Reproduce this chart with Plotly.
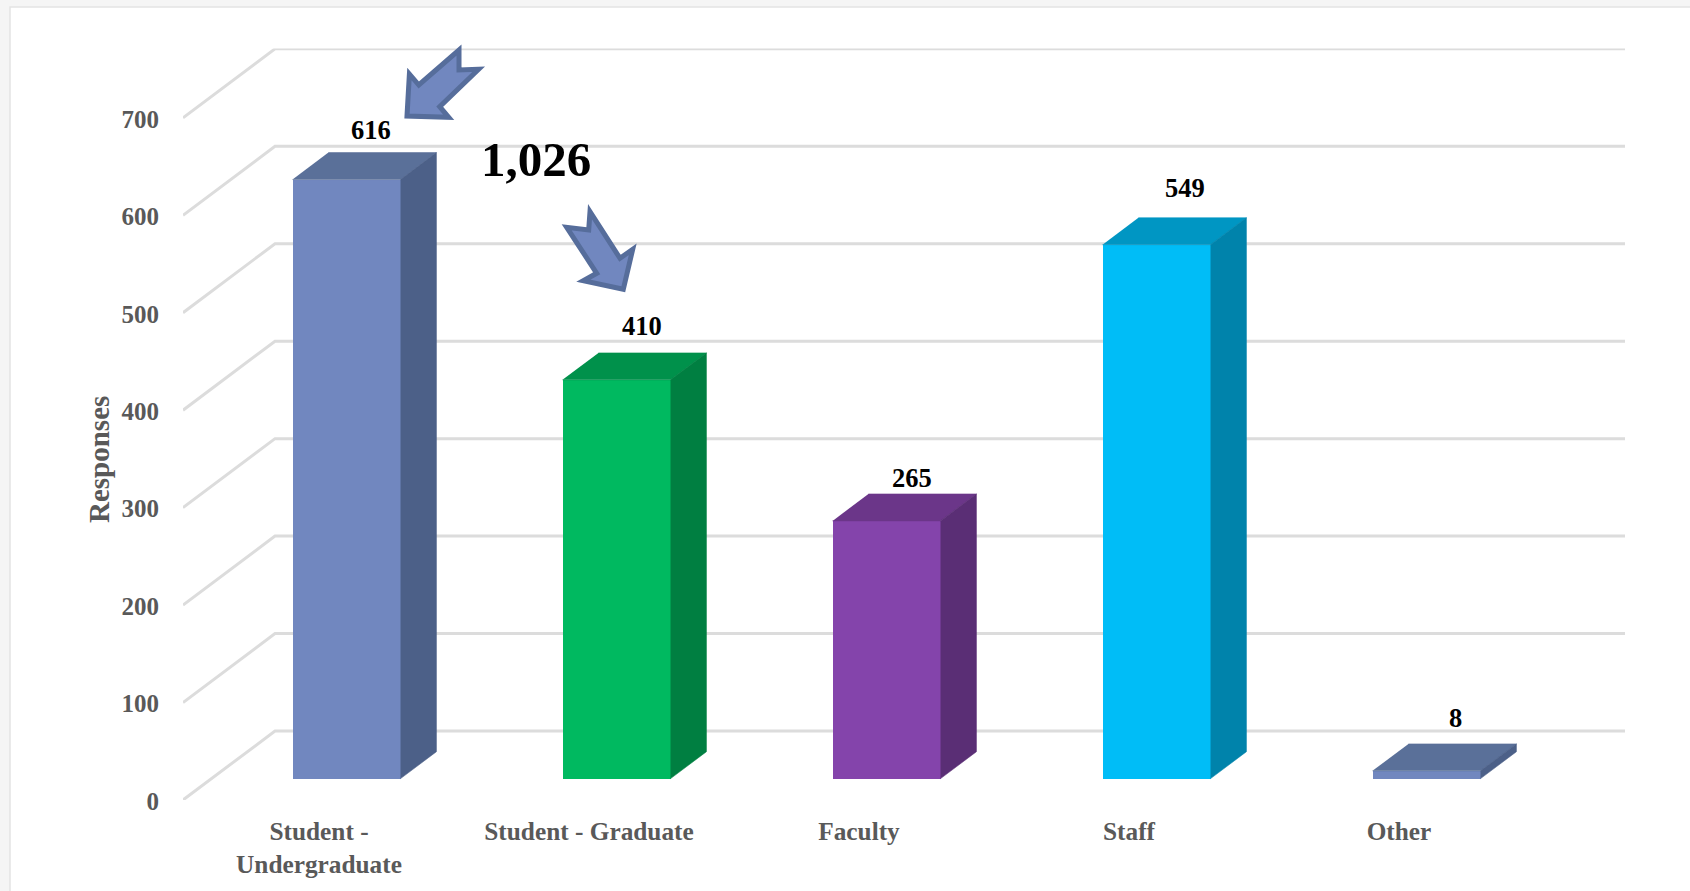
import plotly.graph_objects as go

# ---- data ----
categories = ["Student -<br>Undergraduate", "Student - Graduate", "Faculty", "Staff", "Other"]
responses = [616, 410, 265, 549, 8]
y_ticks = [0, 100, 200, 300, 400, 500, 600, 700]
total_label = "1,026"

# ---- styles ----
front_colors = ["#7187BF", "#00B960", "#8444AB", "#00BDF7", "#7187BF"]
top_colors = ["#5A7099", "#00914B", "#6B3689", "#0096C3", "#5A7099"]
side_colors = ["#4C6088", "#007F41", "#5A2E75", "#0083AB", "#4C6088"]
label_nudges = [(7, 36), (8, 41), (8, 30), (11, 44), (11, 40)]
FONT = "Liberation Serif"

W, H = 1690, 891
LEFT, RIGHT = 183.0, 1625.0      # pixel span of the x axis domain
ZERO, TOP = 800.0, 48.5          # pixel span of the y axis domain
CAT_PX = 270.0                   # pixels per category on the front plane
VAL_PX = 0.9745                  # pixels per response
DEPTH_X = 92.0                   # wall depth in pixels
DEPTH_Y = 69.0
BAR_NEAR, BAR_FAR = 0.31, 0.70   # bar depth as a fraction of wall depth
BAR_W = 0.4                      # bar width in categories
BAR_SCALE = 0.998


def project(x, v, t):
    """Category/value/depth to the 2-D axes of the oblique drawing."""
    return x + t * DEPTH_X / CAT_PX, v + t * DEPTH_Y / VAL_PX


def px(x_px):
    return x_px / W


def py(y_px):
    return 1 - y_px / H


def arrow_path(points):
    return "M" + "L".join(f"{px(a):.5f},{py(b):.5f}" for a, b in points) + "Z"


x_idx = list(range(len(categories)))
fig = go.Figure()

# front faces
near = [project(i, 0, BAR_NEAR) for i in x_idx]
fig.add_trace(go.Bar(
    x=[n[0] for n in near],
    y=[v * BAR_SCALE for v in responses],
    base=[n[1] for n in near],
    width=BAR_W,
    marker=dict(color=front_colors, line=dict(width=0)),
    hoverinfo="skip",
    showlegend=False,
))

# top and side faces
for i, v in zip(x_idx, responses):
    h = v * BAR_SCALE
    l, r = i - BAR_W / 2, i + BAR_W / 2
    corners_top = [project(l, h, BAR_NEAR), project(r, h, BAR_NEAR),
                   project(r, h, BAR_FAR), project(l, h, BAR_FAR)]
    corners_side = [project(r, 0, BAR_NEAR), project(r, 0, BAR_FAR),
                    project(r, h, BAR_FAR), project(r, h, BAR_NEAR)]
    for corners, color in ((corners_top, top_colors[i]), (corners_side, side_colors[i])):
        fig.add_trace(go.Scatter(
            x=[c[0] for c in corners], y=[c[1] for c in corners],
            mode="lines", line=dict(width=0.6, color=color), fill="toself", fillcolor=color,
            hoverinfo="skip", showlegend=False,
        ))

# wall gridlines
shapes = []
x_min, x_max = -0.5, len(categories) - 0.5
for tick in y_ticks:
    a = project(x_min, tick, 0)
    b = project(x_min, tick, 1)
    c = project(x_max, tick, 1)
    shapes.append(dict(type="path", layer="below", xref="x", yref="y",
                       path=f"M{a[0]},{a[1]}L{b[0]},{b[1]}L{c[0]},{c[1]}",
                       line=dict(color="#DCDCDC", width=3)))

# page background panel
shapes.insert(0, dict(type="rect", layer="below", xref="paper", yref="paper",
                      x0=px(10), x1=px(W + 20), y0=py(7), y1=py(H + 20),
                      fillcolor="white", line=dict(color="#E4E4E4", width=1.5)))

# callout arrows
arrow_one = [(407, 116), (409.4, 74), (418.8, 85), (459, 50), (459, 70),
             (478.6, 69.3), (439.7, 106.7), (448.7, 117.3)]
arrow_two = [(590, 211.7), (588.7, 230), (566.7, 227.3), (596.7, 273.3),
             (583.3, 280.7), (623.3, 289.3), (632.7, 249.3), (620, 258.3)]
for pts in (arrow_one, arrow_two):
    shapes.append(dict(type="path", layer="above", xref="paper", yref="paper",
                       path=arrow_path(pts), fillcolor="#7187BF",
                       line=dict(color="#566D9B", width=5)))

# value labels
annotations = []
for i, v, (dx, dy) in zip(x_idx, responses, label_nudges):
    ax, ay = project(i, v * BAR_SCALE, 0.5)
    annotations.append(dict(x=ax, y=ay, xref="x", yref="y", text=f"<b>{v}</b>",
                            showarrow=False, xshift=dx, yshift=dy,
                            xanchor="center", yanchor="middle",
                            font=dict(family=FONT, size=26.5, color="black")))

annotations.append(dict(x=px(536), y=py(160), xref="paper", yref="paper",
                        text=f"<b>{total_label}</b>", showarrow=False,
                        xanchor="center", yanchor="middle",
                        font=dict(family=FONT, size=49, color="black")))
annotations.append(dict(x=px(99), y=py(460), xref="paper", yref="paper",
                        text="<b>Responses</b>", textangle=-90, showarrow=False,
                        xanchor="center", yanchor="middle",
                        font=dict(family=FONT, size=29, color="#595959")))

fig.update_layout(
    width=W, height=H,
    margin=dict(l=0, r=0, t=0, b=0),
    paper_bgcolor="#F5F5F5",
    plot_bgcolor="rgba(0,0,0,0)",
    showlegend=False,
    bargap=0,
    shapes=shapes,
    annotations=annotations,
    xaxis=dict(
        domain=[LEFT / W, RIGHT / W],
        range=[x_min, x_max + DEPTH_X / CAT_PX],
        automargin=False,
        tickmode="array", tickvals=x_idx,
        ticktext=[f"<b>{c.replace('<br>', '</b><br><b>')}</b>" for c in categories],
        ticks="outside", ticklen=9, tickcolor="rgba(0,0,0,0)",
        showgrid=False, zeroline=False, showline=False,
        ticklabelshift=1,
        tickfont=dict(family=FONT, size=25.3, color="#595959"),
    ),
    yaxis=dict(
        domain=[(H - ZERO) / H, (H - TOP) / H],
        range=[0, (ZERO - TOP) / VAL_PX],
        automargin=False,
        tickmode="array", tickvals=y_ticks,
        ticktext=[f"<b>{t}</b>" for t in y_ticks],
        ticks="outside", ticklen=18, tickcolor="rgba(0,0,0,0)",
        showgrid=False, zeroline=False, showline=False,
        ticklabelshift=1,
        tickfont=dict(family=FONT, size=25, color="#595959"),
    ),
)

fig.write_html("out.html", config=dict(displayModeBar=False),
               post_script="document.body.style.margin='0';")
